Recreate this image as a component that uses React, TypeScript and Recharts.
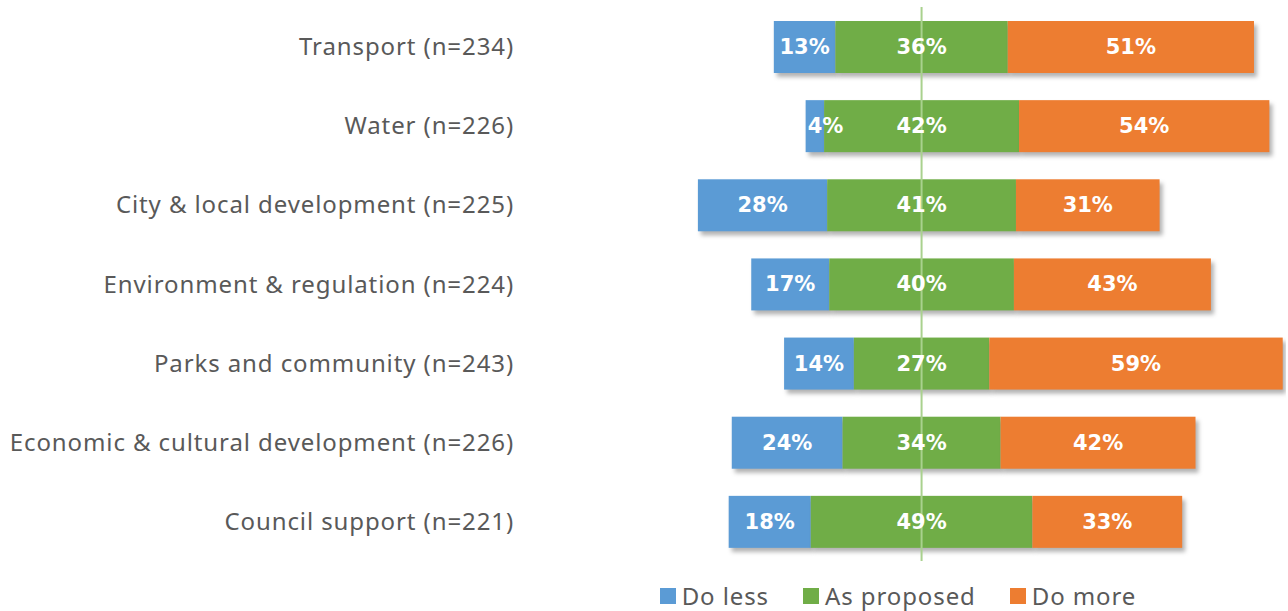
import { BarChart, Bar, XAxis, YAxis, Legend, LabelList, ReferenceLine } from "recharts"

const categories = [
  "Transport (n=234)",
  "Water (n=226)",
  "City & local development (n=225)",
  "Environment & regulation (n=224)",
  "Parks and community (n=243)",
  "Economic & cultural development (n=226)",
  "Council support (n=221)",
]

// respondent counts per answer (bar lengths)
const doLess = [30, 9, 63, 38, 34, 54, 40]
const asProposed = [84, 95, 92, 90, 66, 77, 108]
const doMore = [120, 122, 70, 96, 143, 95, 73]

// labels shown on the bars
const doLessPct = [13, 4, 28, 17, 14, 24, 18]
const asProposedPct = [36, 42, 41, 40, 27, 34, 49]
const doMorePct = [51, 54, 31, 43, 59, 42, 33]

const seriesNames = ["Do less", "As proposed", "Do more"]

const BLUE = "#5B9BD5"
const GREEN = "#70AD47"
const ORANGE = "#ED7D31"

// left edge so that the middle of "As proposed" lines up for every row
const half = categories.map((_, i) => doLess[i] + asProposed[i] / 2)
const center = Math.max(...half)

const data = categories.map((name, i) => ({
  name,
  offset: center - half[i],
  less: doLess[i],
  proposed: asProposed[i],
  more: doMore[i],
  lessPct: doLessPct[i],
  proposedPct: asProposedPct[i],
  morePct: doMorePct[i],
}))

const ShadowRect = (props: any) => {
  const { x, y, width, height, fill } = props
  return (
    <rect
      x={x}
      y={y}
      width={width}
      height={height}
      fill={fill}
      style={{ filter: "drop-shadow(3px 4px 2px rgba(0,0,0,0.3))" }}
    />
  )
}

// centred label; when the segment is too narrow the text starts at its left edge
const SegmentLabel = (props: any) => {
  const { x, y, width, height, value } = props
  const narrow = width < 40
  return (
    <text
      x={narrow ? x + 2 : x + width / 2}
      y={y + height / 2}
      textAnchor={narrow ? "start" : "middle"}
      dominantBaseline="central"
      fill="#ffffff"
      fontSize={21}
      fontWeight={700}
      fontFamily="'DejaVu Sans', sans-serif"
    >
      {`${value}%`}
    </text>
  )
}

const renderLegend = (props: any) => {
  const items = (props.payload || [])
    .filter((p: any) => seriesNames.includes(p.value))
    .sort((a: any, b: any) => seriesNames.indexOf(a.value) - seriesNames.indexOf(b.value))
  return (
    <div style={{ display: "flex", justifyContent: "center", paddingTop: 22, fontFamily: "'Noto Sans', sans-serif" }}>
      {items.map((p: any) => (
        <div
          key={p.value}
          style={{ display: "flex", alignItems: "center", margin: "0 17px", color: "#595959", fontSize: 24, lineHeight: "26px", letterSpacing: 0.9 }}
        >
          <span style={{ width: 16, height: 16, background: p.color, display: "inline-block", marginRight: 6 }} />
          {p.value}
        </div>
      ))}
    </div>
  )
}

export default function App() {
  return (
    <div style={{ position: "absolute", left: 0, top: 0, background: "#fff" }}>
      <BarChart
        width={1288}
        height={611}
        data={data}
        layout="vertical"
        margin={{ top: 7, right: 2, left: 0, bottom: 0 }}
        barSize={52}
      >
        <XAxis type="number" hide domain={[-86.7, 286.6]} allowDataOverflow />
        <YAxis
          type="category"
          dataKey="name"
          width={520}
          tickLine={false}
          axisLine={false}
          tickSize={0}
          tickMargin={6}
          tick={{ fill: "#595959", fontSize: 24, letterSpacing: 0.9, fontFamily: "'Noto Sans', sans-serif" }}
        />
        <Legend verticalAlign="bottom" height={50} content={renderLegend} wrapperStyle={{ left: 448, width: 900 }} />
        <Bar dataKey="offset" stackId="a" fill="transparent" legendType="none" isAnimationActive={false} />
        <Bar dataKey="less" name="Do less" stackId="a" fill={BLUE} shape={ShadowRect} isAnimationActive={false}>
          <LabelList dataKey="lessPct" content={SegmentLabel} />
        </Bar>
        <Bar dataKey="proposed" name="As proposed" stackId="a" fill={GREEN} shape={ShadowRect} isAnimationActive={false}>
          <LabelList dataKey="proposedPct" content={SegmentLabel} />
        </Bar>
        <Bar dataKey="more" name="Do more" stackId="a" fill={ORANGE} shape={ShadowRect} isAnimationActive={false}>
          <LabelList dataKey="morePct" content={SegmentLabel} />
        </Bar>
        <ReferenceLine x={center} stroke="#A9D18E" strokeWidth={2} ifOverflow="extendDomain" />
      </BarChart>
    </div>
  )
}
